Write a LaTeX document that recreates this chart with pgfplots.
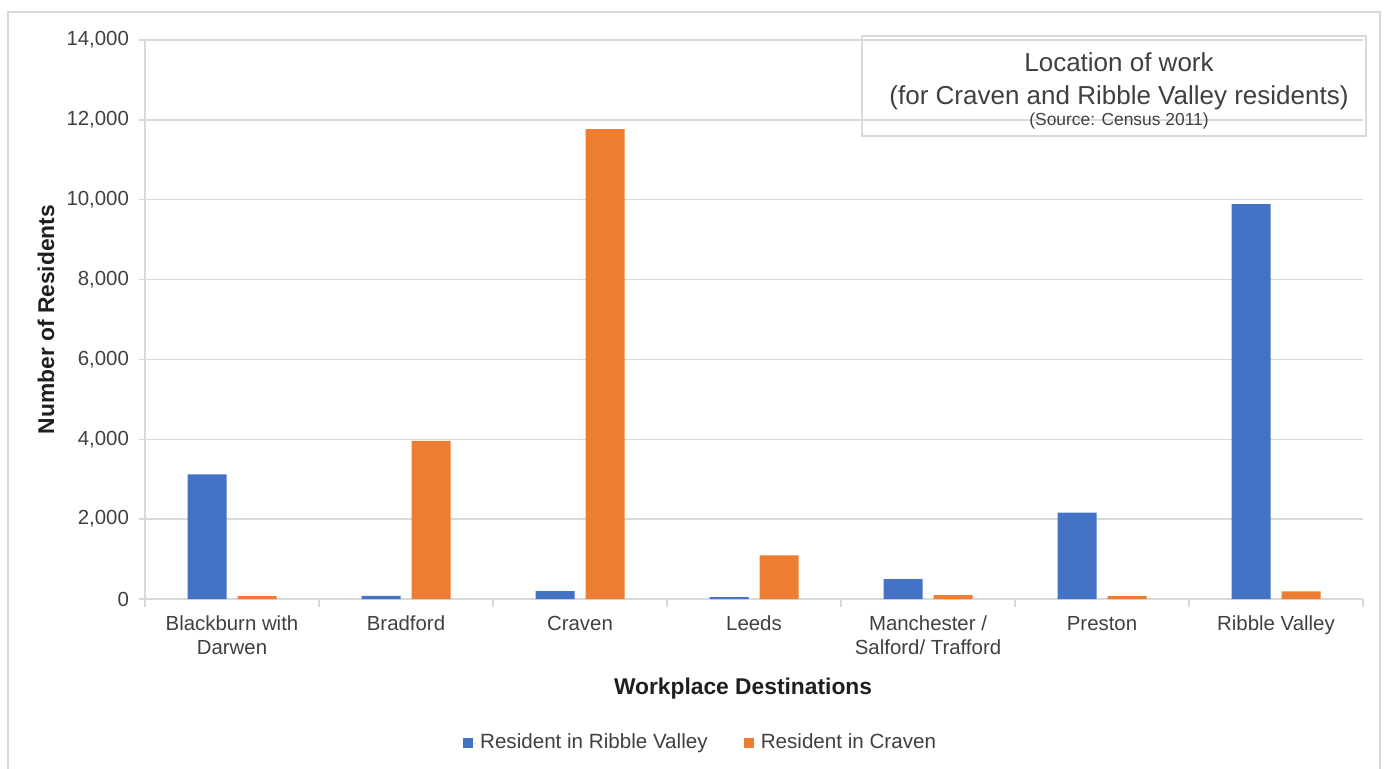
\documentclass[border=0pt]{standalone}
\usepackage{pgfplots}
\pgfplotsset{compat=1.18}
\usepackage{pgfplotstable}
\usepackage{fontspec}
\setmainfont{Liberation Sans}

\definecolor{rvblue}{HTML}{4472C4}
\definecolor{cvorange}{HTML}{ED7D31}
\definecolor{gridgray}{HTML}{D9D9D9}
\definecolor{labelgray}{HTML}{404040}

% Residents by workplace destination (Census 2011)
\pgfplotstableread{
idx ribble craven
0   3120   75
1   80     3960
2   200    11770
3   50     1095
4   500    95
5   2165   75
6   9890   190
}\workdata

\begin{document}
\begin{tikzpicture}[x=1pt,y=1pt]
\useasboundingbox (0,0) rectangle (696,384);
% chart frame
\draw[gridgray, line width=0.75pt] (4,-5) -- (4,378) -- (690,378) -- (690,-5);
\begin{axis}[
  at={(72.5pt,84.5pt)}, anchor=south west,
  scale only axis, width=609pt, height=279.5pt,
  ybar=5.5pt, bar width=19.5pt,
  xmin=-0.5, xmax=6.5, ymin=0, ymax=14000,
  xtick={0,...,6},
  xticklabels={{Blackburn with\\Darwen},Bradford,Craven,Leeds,{Manchester /\\Salford/ Trafford},Preston,Ribble Valley},
  minor xtick={-0.5,0.5,...,6.5},
  ytick={0,2000,...,14000},
  scaled y ticks=false,
  /pgf/number format/assume math mode=true,
  y tick label style={/pgf/number format/1000 sep={,}, xshift=-1.5pt},
  axis lines*=left,
  axis line style={-, draw=gridgray, line width=0.75pt},
  tick align=outside, major tick length=3pt, minor tick length=4pt,
  major x tick style={draw=none},
  minor x tick style={draw=gridgray, line width=0.75pt},
  major y tick style={draw=gridgray, line width=0.75pt},
  ymajorgrids, major grid style={draw=gridgray, line width=0.75pt},
  tick label style={font=\fontsize{10.2}{11.6}\selectfont, text=labelgray},
  xticklabel style={align=center, yshift=-2pt},
  xlabel={Workplace Destinations},
  ylabel={Number of Residents},
  label style={font=\fontsize{11.4}{13}\selectfont\bfseries, text=black!88},
  xlabel style={at={(axis description cs:0.491,-0.161)}, anchor=center},
  ylabel style={at={(axis description cs:-0.0813,0.5)}, anchor=center},
  legend style={at={(axis description cs:0.4569,-0.2576)}, anchor=center,
    draw=none, legend columns=2, font=\fontsize{10.3}{12}\selectfont,
    text=labelgray, /tikz/every even column/.append style={column sep=16pt}},
  legend image code/.code={\fill[#1] (0pt,-2.6pt) rectangle (5.2pt,2.6pt);
    \path (0pt,0pt) -- (6.6pt,0pt);},
]
\addplot[fill=rvblue, draw=none] table[x=idx, y=ribble] {\workdata};
\addplot[fill=cvorange, draw=none] table[x=idx, y=craven] {\workdata};
\legend{Resident in Ribble Valley, Resident in Craven}
\end{axis}
% title box
\draw[gridgray, line width=0.75pt] (431,316) rectangle (683,366);
\node[anchor=base, font=\fontsize{13}{15}\selectfont, text=labelgray] at (559.5,348.5) {Location of work};
\node[anchor=base, font=\fontsize{13}{15}\selectfont, text=labelgray] at (559.5,332) {(for Craven and Ribble Valley residents)};
\node[anchor=base, font=\fontsize{8.7}{10}\selectfont, text=labelgray] at (559.5,321.5) {(Source: Census 2011)};
\end{tikzpicture}
\end{document}
